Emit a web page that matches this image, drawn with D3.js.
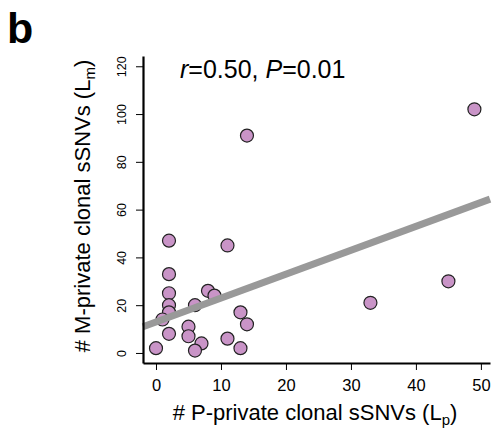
<!DOCTYPE html>
<html>
<head>
<meta charset="utf-8">
<script src="https://cdn.jsdelivr.net/npm/d3@7"></script>
<style>
  body { margin: 0; background: #fff; }
  svg { font-family: "Liberation Sans", Arial, Helvetica, sans-serif; }
</style>
</head>
<body>
<script>
// P-private (x) and M-private (y) clonal sSNV counts
var lpValues = [49, 14, 2, 11, 45, 2, 8, 2, 9, 33, 2, 6, 2, 13, 1, 14, 5, 2, 5, 11, 7, 0, 13, 6];
var lmValues = [102, 91, 47, 45, 30, 33, 26, 25, 24, 21, 20, 20, 17, 17, 14, 12, 11, 8, 7, 6, 4, 2, 2, 1];
var xTicks = [0, 10, 20, 30, 40, 50];
var yTicks = [0, 20, 40, 60, 80, 100, 120];
// fitted line (intercept, slope) as drawn
var fitLine = [13, 1.0];

var width = 494, height = 432;

var svg = d3.select("body")
            .append("svg")
            .attr("width", width)
            .attr("height", height);

var x = d3.scaleLinear().domain([-2, 51.4]).range([143, 490]);
var y = d3.scaleLinear().domain([-4.2, 124.3]).range([363, 56]);

// panel letter
svg.append("text")
   .attr("x", 7)
   .attr("y", 43)
   .style("font-size", "43px")
   .style("font-weight", "bold")
   .text("b");

// points
svg.append("g")
   .selectAll("circle")
   .data(lpValues)
   .enter().append("circle")
   .attr("cx", function(d) { return x(d); })
   .attr("cy", function(d, i) { return y(lmValues[i]); })
   .attr("r", 6.5)
   .style("fill", "#c994c7")
   .style("stroke", "#222")
   .style("stroke-width", 1.2);

// regression line on top of the points
var xd = x.domain();
svg.append("line")
   .attr("x1", x(xd[0]))
   .attr("y1", y(fitLine[0] + fitLine[1] * xd[0]))
   .attr("x2", x(xd[1]))
   .attr("y2", y(fitLine[0] + fitLine[1] * xd[1]))
   .style("stroke", "#999")
   .style("stroke-width", 7);

// x axis
var xAxis = d3.axisBottom(x).tickValues(xTicks).tickSize(7).tickSizeOuter(0).tickPadding(9);
var gx = svg.append("g")
   .attr("transform", "translate(0," + y.range()[0] + ")")
   .call(xAxis);
gx.select(".domain").style("stroke-width", 2.2);
gx.selectAll(".tick line").style("stroke-width", 1);
gx.selectAll("text").style("font-size", "16.5px").attr("fill", "#000");

// y axis, labels turned like R's default
var yAxis = d3.axisLeft(y).tickValues(yTicks).tickSize(7).tickSizeOuter(0);
var gy = svg.append("g")
   .attr("transform", "translate(" + x.range()[0] + ",0)")
   .call(yAxis);
gy.select(".domain").style("stroke-width", 2.2);
gy.selectAll(".tick line").style("stroke-width", 1);
gy.selectAll("text")
   .attr("x", 0)
   .attr("y", -17)
   .attr("dy", 0)
   .attr("transform", "rotate(-90)")
   .style("text-anchor", "middle")
   .style("font-size", "12.5px")
   .attr("fill", "#000");

// correlation label
var stat = svg.append("text")
   .attr("x", 180)
   .attr("y", 78)
   .style("font-size", "25px");
stat.append("tspan").style("font-style", "italic").text("r");
stat.append("tspan").text("=0.50, ");
stat.append("tspan").style("font-style", "italic").text("P");
stat.append("tspan").text("=0.01");

// axis titles
var xt = svg.append("text")
   .attr("x", 315)
   .attr("y", 420)
   .style("text-anchor", "middle")
   .style("font-size", "22px");
xt.append("tspan").text("# P-private clonal sSNVs (L");
xt.append("tspan").attr("dy", 5).style("font-size", "15px").text("p");
xt.append("tspan").attr("dy", -5).text(")");

var yt = svg.append("text")
   .attr("transform", "translate(90,206) rotate(-90)")
   .style("text-anchor", "middle")
   .style("font-size", "22px");
yt.append("tspan").text("# M-private clonal sSNVs (L");
yt.append("tspan").attr("dy", 5).style("font-size", "15px").text("m");
yt.append("tspan").attr("dy", -5).text(")");
</script>
</body>
</html>
